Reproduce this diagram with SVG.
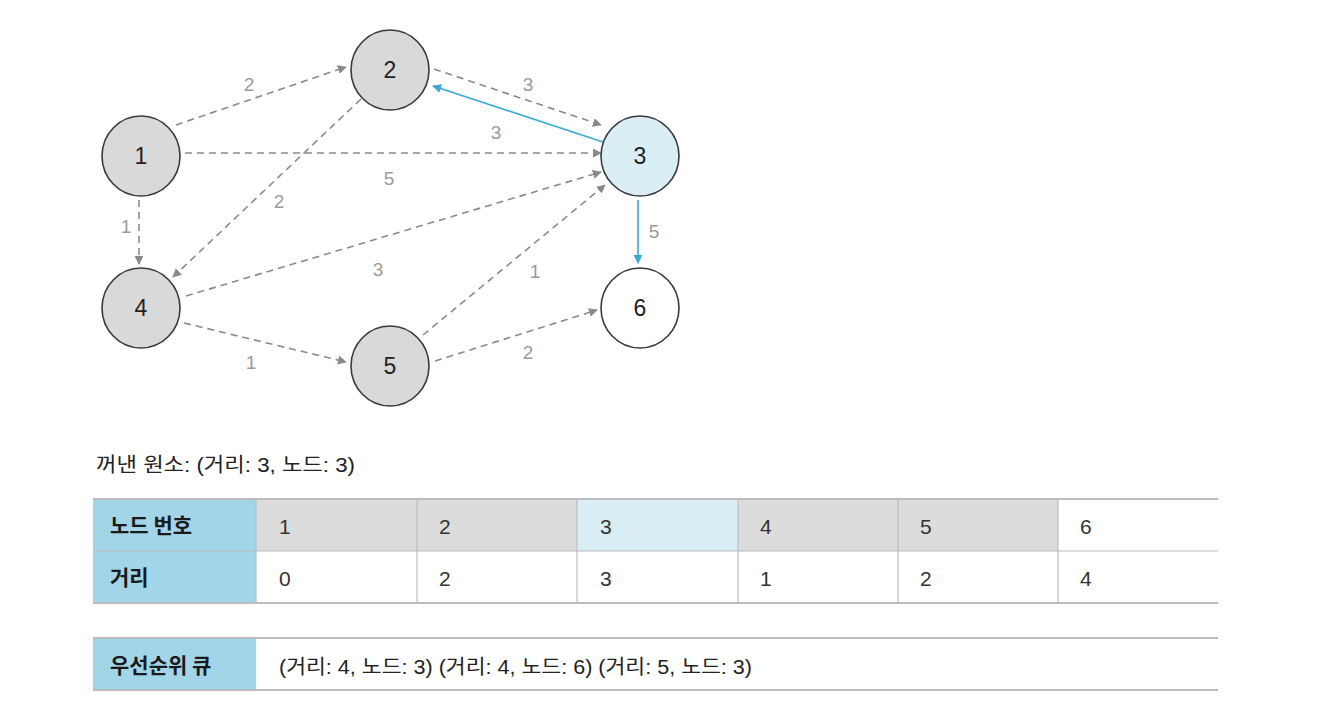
<svg xmlns="http://www.w3.org/2000/svg" width="1318" height="708" viewBox="0 0 1318 708">
<style>
.node{stroke:#3a3a3a;stroke-width:1.6}
.g{fill:#d9d9d9}
.nl{font-family:"Liberation Sans","Noto Sans",sans-serif;font-size:23px;fill:#222;text-anchor:middle}
.e{stroke:#8a8a8a;stroke-width:1.6;stroke-dasharray:7 5;fill:none}
.b{stroke:#3aa9d6;stroke-width:1.6;fill:none}
.el{font-family:"Liberation Sans","Noto Sans",sans-serif;font-size:19px;fill:#9a9a9a;text-anchor:middle}
.t{font-family:"Liberation Sans","Noto Sans CJK KR",sans-serif;font-size:20px;fill:#222}
.h{font-family:"Noto Sans CJK KR",sans-serif;font-size:21px;font-weight:bold;fill:#1a1a1a}
.c{font-family:"Liberation Sans","Noto Sans",sans-serif;font-size:21px;fill:#333}
.ln{stroke:#bcbcbc;stroke-width:1.2}
.bl{stroke:#bcbcbc;stroke-width:2}
</style>
<defs>
<marker id="ag" viewBox="0 0 10 10" refX="9" refY="5" markerWidth="9" markerHeight="9" markerUnits="userSpaceOnUse" orient="auto"><path d="M0,0 L10,5 L0,10 z" fill="#8a8a8a"/></marker>
<marker id="ab" viewBox="0 0 10 10" refX="9" refY="5" markerWidth="9" markerHeight="9" markerUnits="userSpaceOnUse" orient="auto"><path d="M0,0 L10,5 L0,10 z" fill="#3aa9d6"/></marker>
</defs>
<rect width="1318" height="708" fill="#fff"/>
<g id="connectors">
<line class="e" x1="176" y1="125" x2="346" y2="67" marker-end="url(#ag)"/>
<line class="e" x1="434" y1="69" x2="601" y2="125" marker-end="url(#ag)"/>
<line class="b" x1="603" y1="142" x2="433" y2="86" marker-end="url(#ab)"/>
<line class="e" x1="185" y1="153" x2="601" y2="153" marker-end="url(#ag)"/>
<line class="e" x1="361" y1="99" x2="173" y2="277" marker-end="url(#ag)"/>
<line class="e" x1="139" y1="200" x2="139" y2="264" marker-end="url(#ag)"/>
<line class="e" x1="186" y1="296" x2="601" y2="172" marker-end="url(#ag)"/>
<line class="e" x1="423" y1="335" x2="605" y2="185" marker-end="url(#ag)"/>
<line class="e" x1="184" y1="323" x2="346" y2="362" marker-end="url(#ag)"/>
<line class="e" x1="435" y1="361" x2="597" y2="310" marker-end="url(#ag)"/>
<line class="b" x1="638" y1="200" x2="638" y2="263" marker-end="url(#ab)"/>
<text class="el" x="249" y="91">2</text>
<text class="el" x="528" y="91">3</text>
<text class="el" x="496" y="139">3</text>
<text class="el" x="389" y="185">5</text>
<text class="el" x="279" y="208">2</text>
<text class="el" x="126" y="233">1</text>
<text class="el" x="378" y="276">3</text>
<text class="el" x="535" y="278">1</text>
<text class="el" x="251" y="369">1</text>
<text class="el" x="528" y="359">2</text>
<text class="el" x="654" y="238">5</text>
</g>
<g id="node1"><ellipse class="node g" cx="141" cy="156" rx="39" ry="40"/><text class="nl" x="141" y="164">1</text></g>
<g id="node2"><ellipse class="node g" cx="390" cy="70" rx="39" ry="40"/><text class="nl" x="390" y="78">2</text></g>
<g id="node3"><ellipse class="node" fill="#daeef6" cx="640" cy="156" rx="39" ry="40"/><text class="nl" x="640" y="164">3</text></g>
<g id="node4"><ellipse class="node g" cx="141" cy="308" rx="39" ry="40"/><text class="nl" x="141" y="316">4</text></g>
<g id="node5"><ellipse class="node g" cx="390" cy="366" rx="39" ry="40"/><text class="nl" x="390" y="374">5</text></g>
<g id="node6"><ellipse class="node" fill="#fff" cx="640" cy="308" rx="39" ry="40"/><text class="nl" x="640" y="316">6</text></g>
<g id="title"><text class="t" x="96" y="472" textLength="259" lengthAdjust="spacingAndGlyphs">꺼낸 원소: (거리: 3, 노드: 3)</text></g>
<g id="table">
<rect x="93" y="499" width="163" height="104" fill="#a2d5e8"/>
<rect x="256" y="499" width="321" height="52" fill="#dcdcdc"/>
<rect x="577" y="499" width="161" height="52" fill="#d9edf5"/>
<rect x="738" y="499" width="320" height="52" fill="#dcdcdc"/>
<line class="bl" x1="93" y1="499" x2="1218" y2="499"/>
<line class="ln" x1="93" y1="551" x2="256" y2="551" stroke="#f4f4f4"/>
<line class="ln" x1="256" y1="551" x2="1218" y2="551"/>
<line class="bl" x1="93" y1="603" x2="1218" y2="603"/>
<line class="ln" x1="256" y1="499" x2="256" y2="603"/>
<line class="ln" x1="417" y1="499" x2="417" y2="603"/>
<line class="ln" x1="577" y1="499" x2="577" y2="603"/>
<line class="ln" x1="738" y1="499" x2="738" y2="603"/>
<line class="ln" x1="898" y1="499" x2="898" y2="603"/>
<line class="ln" x1="1058" y1="499" x2="1058" y2="603"/>
<text class="h" x="110" y="533">노드 번호</text>
<text class="h" x="110" y="585">거리</text>
<text class="c" x="279" y="534">1</text>
<text class="c" x="439" y="534">2</text>
<text class="c" x="600" y="534">3</text>
<text class="c" x="760" y="534">4</text>
<text class="c" x="920" y="534">5</text>
<text class="c" x="1080" y="534">6</text>
<text class="c" x="279" y="586">0</text>
<text class="c" x="439" y="586">2</text>
<text class="c" x="600" y="586">3</text>
<text class="c" x="760" y="586">1</text>
<text class="c" x="920" y="586">2</text>
<text class="c" x="1080" y="586">4</text>
</g>
<g id="queue">
<rect x="93" y="638" width="163" height="52" fill="#a2d5e8"/>
<line class="bl" x1="93" y1="638" x2="1218" y2="638"/>
<line class="bl" x1="93" y1="690" x2="1218" y2="690"/>
<text class="h" x="110" y="673">우선순위 큐</text>
<text class="t" x="279" y="674" textLength="473" lengthAdjust="spacingAndGlyphs">(거리: 4, 노드: 3) (거리: 4, 노드: 6) (거리: 5, 노드: 3)</text>
</g>
</svg>
